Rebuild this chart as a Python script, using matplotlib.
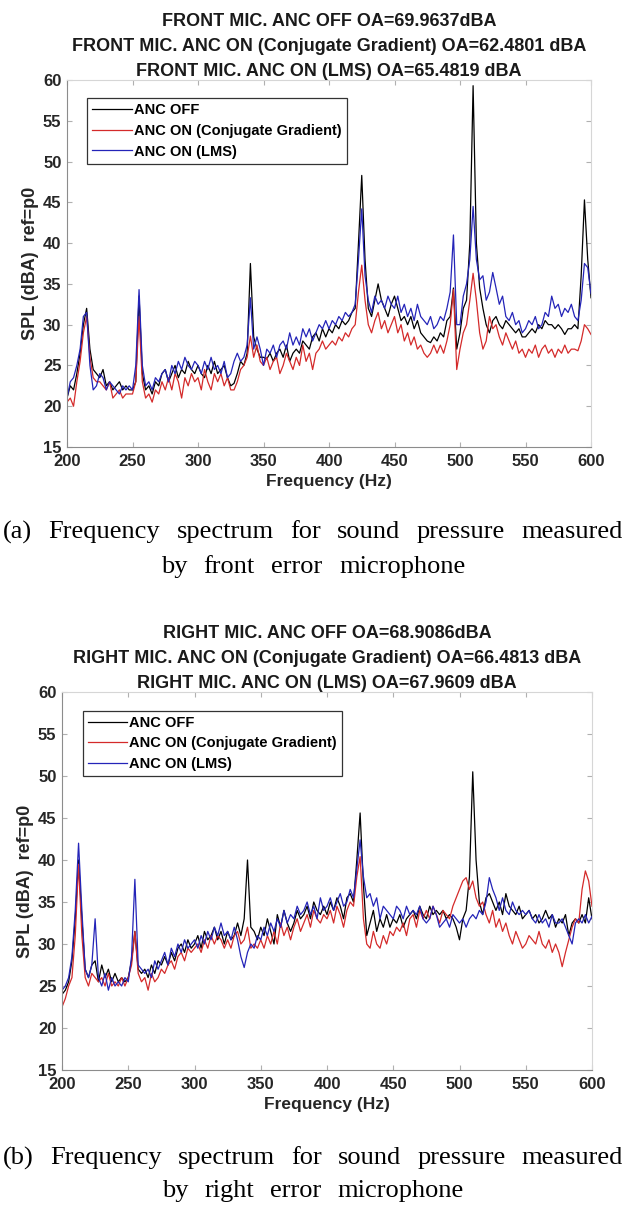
import numpy as np
import matplotlib
matplotlib.use('Agg')
import matplotlib.pyplot as plt

plt.rcParams['font.family'] = ['Liberation Sans', 'DejaVu Sans']

# frequency grid (Hz), 2.5 Hz step
freq = np.arange(200, 600.1, 2.5)

# (a) front error microphone
front_off = [21.0, 22.5, 22.0, 24.0, 26.5, 30.0, 32.0, 27.0, 24.5, 24.0,
             23.5, 24.5, 22.5, 23.0, 22.0, 22.5, 23.0, 22.0, 22.5, 22.0,
             22.0, 23.0, 33.5, 24.0, 22.0, 22.5, 21.5, 23.0, 22.5, 24.0,
             24.5, 23.0, 24.0, 25.0, 23.5, 24.5, 24.0, 25.5, 24.5, 24.0,
             25.0, 24.0, 23.5, 25.0, 24.0, 25.5, 24.0, 24.5, 25.0, 23.5,
             22.5, 22.8, 24.0, 25.5, 25.0, 26.5, 37.5, 28.5, 27.0, 26.0,
             26.0, 25.8, 26.5, 25.5, 26.5, 27.0, 26.0, 27.5, 25.5, 26.5,
             27.0, 26.5, 28.0, 27.5, 27.0, 28.5, 29.0, 28.0, 29.5, 28.5,
             29.5, 29.0, 30.0, 29.5, 30.5, 30.0, 30.5, 31.5, 32.0, 40.0,
             48.3, 38.0, 32.0, 31.0, 33.0, 35.0, 33.0, 32.0, 31.0, 32.5,
             33.5, 32.0, 30.5, 31.0, 30.0, 31.0, 29.5, 30.5, 29.0, 28.5,
             28.0, 27.8, 28.5, 28.0, 29.0, 28.5, 30.5, 31.0, 34.5, 27.0,
             29.0, 32.0, 33.0, 40.0, 59.3, 40.0, 34.5, 32.0, 30.0, 29.0,
             30.5, 31.0, 30.0, 29.5, 30.5, 30.0, 29.5, 29.0, 29.5, 28.5,
             28.5, 29.0, 29.5, 29.0, 30.0, 29.5, 30.5, 30.0, 30.0, 29.5,
             30.0, 29.5, 28.8, 29.5, 29.5, 30.0, 29.5, 36.0, 45.3, 38.0,
             33.3]
front_cg = [20.5, 21.0, 20.0, 23.0, 25.5, 29.0, 31.0, 26.0, 23.5, 23.0,
            23.0, 22.5, 22.0, 23.0, 21.0, 21.5, 22.0, 21.0, 21.5, 21.5,
            21.5, 23.0, 31.0, 23.0, 21.0, 21.5, 20.5, 22.0, 21.5, 23.0,
            22.0, 23.5, 22.0, 24.0, 23.0, 21.0, 23.5, 22.5, 24.0, 23.0,
            23.5, 22.0, 24.5, 23.0, 22.0, 24.0, 23.0, 24.0, 22.5, 23.5,
            22.0, 22.0, 23.0, 24.5, 25.0, 26.0, 28.6, 26.0, 27.5, 25.5,
            25.0, 26.0, 24.5, 25.5, 26.0, 24.0, 25.0, 26.5, 25.5, 24.5,
            26.0, 25.0, 27.5, 25.5, 26.5, 24.5, 26.5, 27.0, 28.0, 27.0,
            27.5, 28.0, 27.5, 28.5, 28.0, 29.0, 28.5, 29.5, 30.0, 34.0,
            37.3, 33.0, 30.0, 29.0, 30.5, 31.5, 29.5, 30.5, 29.0, 30.0,
            31.0, 29.0, 30.0, 28.0, 29.0, 27.5, 28.5, 27.0, 27.5, 26.5,
            26.0, 26.5, 27.5, 26.5, 27.5, 26.5, 28.0, 30.0, 34.3, 24.5,
            27.0, 29.0, 30.0, 33.0, 36.3, 33.0, 29.0, 27.0, 28.0, 31.0,
            29.5, 30.0, 28.5, 27.5, 29.0, 28.0, 27.0, 28.0, 26.5, 27.0,
            26.0, 27.0, 26.5, 27.5, 26.0, 27.0, 27.5, 26.5, 27.0, 26.0,
            27.0, 26.5, 27.5, 26.5, 27.0, 27.0, 26.8, 28.0, 30.0, 29.5,
            28.8]
front_lms = [21.0, 23.0, 23.5, 25.0, 27.0, 31.0, 31.5, 25.0, 22.0, 22.5,
             24.0, 23.5, 22.0, 23.0, 22.5, 22.0, 21.5, 22.5, 22.0, 22.5,
             22.0, 25.0, 34.3, 25.0, 22.5, 23.0, 22.0, 23.5, 23.0, 24.0,
             24.5, 23.0, 25.0, 24.0, 25.5, 24.5, 26.0, 25.0, 24.5, 25.5,
             25.0, 24.0, 25.5, 24.5, 26.0, 24.5, 25.0, 24.0, 25.5, 23.5,
             24.0, 25.5, 26.5, 25.5, 26.0, 27.5, 33.3, 27.0, 28.5, 27.0,
             25.0, 27.0, 26.5, 27.5, 26.0, 27.5, 28.0, 27.0, 29.0, 27.5,
             28.5, 27.5, 29.5, 28.5, 29.5, 28.0, 29.0, 30.0, 29.5, 30.5,
             29.5, 30.5, 30.0, 31.0, 30.5, 31.5, 31.0, 31.5, 32.5, 38.0,
             44.2, 36.0, 33.0, 31.5, 33.5, 32.5, 33.0, 32.0, 33.5, 32.5,
             32.0, 33.5, 31.5, 32.5, 31.0, 32.0, 30.5, 32.5, 31.0, 30.5,
             30.0, 31.0, 29.5, 30.0, 31.0, 30.5, 32.0, 34.0, 41.0, 30.0,
             30.0, 33.5, 35.0, 38.0, 44.5, 38.0, 35.5, 36.0, 33.0, 34.0,
             36.4, 34.5, 32.5, 33.5, 31.0, 30.5, 31.5, 30.0, 30.5, 29.0,
             29.5, 30.5, 30.0, 31.0, 29.5, 30.0, 31.5, 31.0, 33.5, 32.0,
             32.5, 31.0, 32.0, 31.5, 32.5, 31.0, 30.5, 33.0, 37.5, 37.0,
             33.8]

# (b) right error microphone
right_off = [24.0, 24.5, 25.5, 28.0, 33.0, 40.0, 33.0, 27.0, 26.0, 27.5,
             28.0, 25.5, 27.5, 26.0, 27.0, 25.5, 26.5, 25.5, 26.0, 25.5,
             26.0, 28.0, 31.5, 27.0, 26.5, 27.0, 26.0, 27.5, 26.5, 28.0,
             27.5, 28.5, 27.5, 29.0, 28.0, 29.5, 30.0, 29.0, 30.5, 29.5,
             30.0, 31.0, 29.5, 31.5, 30.5, 31.0, 32.0, 30.5, 31.5, 30.0,
             31.5, 30.5, 31.0, 32.5, 31.0, 33.0, 40.0, 32.0, 31.5, 30.5,
             32.0, 31.0, 33.0, 31.5, 30.0, 33.5, 32.0, 34.0, 32.5, 31.5,
             32.5, 34.0, 33.0, 33.5, 34.5, 33.0, 35.0, 34.0, 33.5, 34.5,
             33.5, 35.0, 34.0, 35.5, 34.5, 33.0, 35.5, 36.0, 35.0, 40.0,
             45.6, 37.0, 31.0, 32.5, 34.0, 31.5, 33.0, 32.0, 33.5, 32.0,
             33.0, 32.5, 33.5, 32.0, 33.0, 33.5, 34.0, 33.0, 34.5, 33.5,
             33.0, 34.5, 33.5, 34.0, 33.5, 34.0, 33.0, 33.5, 33.0, 32.0,
             30.5, 33.0, 34.0, 38.0, 50.5, 40.0, 35.0, 33.5, 35.5, 36.0,
             35.0, 34.0, 35.0, 33.5, 36.0, 34.5, 34.0, 33.5, 34.5, 33.0,
             33.5, 34.0, 33.0, 33.5, 32.5, 33.0, 34.0, 33.0, 33.5, 32.0,
             33.0, 32.5, 33.5, 31.0, 32.5, 33.0, 32.5, 33.5, 32.5, 35.5,
             33.0]
right_cg = [22.5, 23.5, 25.0, 26.0, 31.0, 39.5, 31.0, 26.0, 25.0, 26.5,
            26.0, 25.5, 26.0, 25.0, 26.5, 25.0, 25.5, 25.0, 26.0, 25.0,
            26.0, 27.5, 31.5, 26.5, 25.5, 26.0, 24.5, 26.5, 25.5, 26.0,
            27.0, 26.5, 27.5, 28.0, 27.0, 28.5, 29.0, 28.0, 29.5, 29.0,
            29.5, 30.0, 29.0, 30.5, 29.5, 31.0, 30.0, 31.0, 30.5, 29.5,
            30.5, 29.5, 31.0, 31.5, 30.0, 30.5, 32.0, 29.5, 30.0, 29.5,
            30.5, 29.5, 31.0, 30.0, 31.5, 30.0, 32.5, 31.0, 32.0, 30.5,
            32.0, 33.0, 31.5, 32.5, 33.5, 32.0, 34.0, 33.0, 32.5, 33.5,
            33.0, 34.0, 32.5, 34.5, 33.5, 32.0, 34.0, 35.0, 34.5, 38.0,
            40.4, 33.0, 30.0, 29.5, 31.5, 30.0, 29.5, 31.0, 30.0, 31.5,
            31.0, 32.0, 31.5, 32.5, 31.0, 33.0, 33.5, 32.0, 34.0, 33.0,
            34.0, 33.0, 34.5, 33.5, 32.5, 34.0, 33.5, 33.0, 34.5, 35.5,
            36.5, 37.5, 37.9, 36.5, 37.5, 35.5, 34.5, 35.0, 33.5, 32.5,
            34.0, 32.0, 33.0, 31.5, 32.5, 31.0, 30.0, 31.5, 30.5, 29.5,
            30.0, 31.0, 30.5, 30.0, 31.5, 30.0, 29.5, 30.5, 29.0, 30.0,
            29.0, 27.3, 29.0, 30.5, 32.0, 33.0, 32.5, 36.5, 38.7, 37.5,
            34.5]
right_lms = [24.5, 25.0, 26.0, 28.5, 34.0, 42.0, 34.0, 27.0, 26.0, 27.5,
             33.0, 26.0, 25.0, 26.5, 24.5, 26.0, 25.0, 25.5, 25.0, 26.0,
             25.5, 28.5, 37.7, 27.5, 27.0, 26.5, 27.0, 26.0, 28.0, 27.0,
             28.0, 29.0, 27.5, 29.5, 28.5, 30.0, 29.0, 30.5, 29.5, 30.0,
             30.5, 29.5, 31.0, 30.0, 31.5, 30.5, 32.0, 31.0, 32.5, 31.0,
             31.5, 30.5, 32.0, 30.5, 28.5, 27.2, 29.0, 30.0, 29.5, 31.0,
             30.5, 32.0, 31.0, 32.5, 31.5, 33.0, 32.0, 34.0, 32.5, 33.5,
             33.0, 34.5, 33.5, 34.0, 35.0, 33.5, 34.5, 33.0, 35.5, 34.0,
             34.5, 35.5, 34.0, 35.0, 36.0, 34.5, 35.0, 36.5, 35.5, 39.0,
             42.4, 38.0, 35.5, 36.0, 34.5, 35.5, 33.0, 34.5, 34.0, 33.5,
             33.0, 34.5, 34.0, 33.0, 34.5, 33.5, 34.0, 33.5, 34.5, 33.0,
             32.5, 33.0, 34.5, 33.5, 32.0, 32.5, 33.0, 32.0, 33.5, 33.0,
             32.5, 33.0, 32.0, 33.0, 33.5, 33.0, 34.0, 33.5, 35.0, 37.9,
             36.5, 35.5, 34.0, 35.5, 34.0, 33.5, 35.0, 34.0, 33.5, 34.0,
             33.5, 34.0, 33.0, 32.5, 33.5, 32.5, 33.0, 32.0, 33.5, 32.5,
             32.5, 33.0, 32.0, 31.0, 30.0, 32.5, 33.0, 32.5, 33.5, 32.5,
             33.3]

labels = ['ANC OFF', 'ANC ON (Conjugate Gradient)', 'ANC ON (LMS)']
colors = ['black', '#d42a2a', '#2424b8']
titles_a = ['FRONT MIC. ANC OFF OA=69.9637dBA',
            'FRONT MIC. ANC ON (Conjugate Gradient) OA=62.4801 dBA',
            'FRONT MIC. ANC ON (LMS) OA=65.4819 dBA']
titles_b = ['RIGHT MIC. ANC OFF OA=68.9086dBA',
            'RIGHT MIC. ANC ON (Conjugate Gradient) OA=66.4813 dBA',
            'RIGHT MIC. ANC ON (LMS) OA=67.9609 dBA']
cap_a = ['(a) Frequency spectrum for sound pressure measured', 'by front error microphone']
cap_b = ['(b) Frequency spectrum for sound pressure measured', 'by right error microphone']

W, H = 626, 1206
fig = plt.figure(figsize=(W / 100, H / 100), dpi=100)


def px_axes(l, t, r, b):
    return fig.add_axes([l / W, 1 - b / H, (r - l) / W, (b - t) / H])


def draw_panel(ax, series, titles):
    for y, c, lab in zip(series, colors, labels):
        ax.plot(freq, y, color=c, lw=0.9, label=lab)
    ax.set_xlim(200, 600)
    ax.set_ylim(15, 60)
    ax.set_xticks(np.arange(200, 601, 50))
    ax.set_yticks(np.arange(15, 61, 5))
    ax.tick_params(direction='in', length=3.5, width=0.8, color='#b0b0b0',
                   top=True, right=True, labelsize=12, labelcolor='#262626')
    ax.tick_params(axis='x', pad=5)
    ax.tick_params(axis='y', pad=4)
    for lab in ax.get_xticklabels() + ax.get_yticklabels():
        lab.set_fontweight('bold')
    for s in ['left', 'bottom']:
        ax.spines[s].set_color('#8c8c8c')
    for s in ['top', 'right']:
        ax.spines[s].set_color('#d6d6d6')
    ax.set_xlabel('Frequency (Hz)', fontsize=12.5, fontweight='bold', color='#262626', labelpad=4)
    ax.set_ylabel('SPL (dBA)  ref=p0', fontsize=13, fontweight='bold', color='#262626', labelpad=3)
    ax.set_title('\n'.join(titles), fontsize=13, fontweight='bold', color='#1a1a1a',
                 linespacing=1.6, pad=3)
    leg = ax.legend(loc='upper left', bbox_to_anchor=(0.025, 0.97),
                    prop={'weight': 'bold', 'size': 10.5}, handlelength=2.7,
                    handletextpad=0.15, borderpad=0.35, labelspacing=0.45,
                    fancybox=False, framealpha=1)
    leg.get_frame().set_edgecolor('#333333')
    leg.get_frame().set_linewidth(0.9)


ax1 = px_axes(67, 80, 591, 447)
draw_panel(ax1, [front_off, front_cg, front_lms], titles_a)
ax2 = px_axes(62, 692, 592, 1070)
draw_panel(ax2, [right_off, right_cg, right_lms], titles_b)

# captions with justified word spacing
fig.canvas.draw()
renderer = fig.canvas.get_renderer()


def caption(lines, y1, y2):
    fs = 19
    words1 = lines[0].split()
    t1 = [fig.text(0, 1 - y1 / H, w, fontsize=fs, family='Liberation Serif', va='center') for w in words1]
    w1 = [t.get_window_extent(renderer).width for t in t1]
    x0, x1 = 3, 623
    gap = (x1 - x0 - sum(w1)) / (len(w1) - 1)
    x = x0
    for t, w in zip(t1, w1):
        t.set_x(x / W)
        x += w + gap
    words2 = lines[1].split()
    t2 = [fig.text(0, 1 - y2 / H, w, fontsize=fs, family='Liberation Serif', va='center') for w in words2]
    w2 = [t.get_window_extent(renderer).width for t in t2]
    total = sum(w2) + gap * (len(w2) - 1)
    x = W / 2 - total / 2
    for t, w in zip(t2, w2):
        t.set_x(x / W)
        x += w + gap


caption(cap_a, 532, 567)
caption(cap_b, 1158, 1191)

fig.savefig('out.png', dpi=100)
